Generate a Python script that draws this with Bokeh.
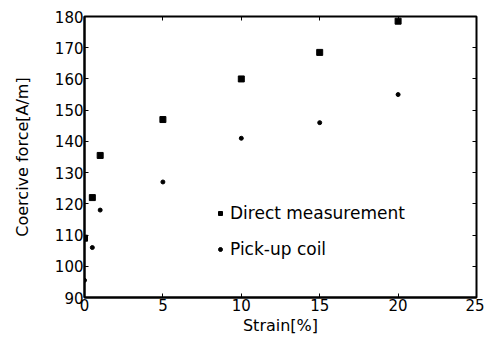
from bokeh.plotting import figure
from bokeh.models import LinearAxis, Legend, LegendItem, Range1d, FixedTicker, ColumnDataSource
from bokeh.embed import file_html
from bokeh.resources import INLINE

strain_direct = [0, 0.5, 1, 5, 10, 15, 20]
hc_direct = [109, 122, 135.5, 147, 160, 168.5, 178.5]
strain_pickup = [0, 0.5, 1, 5, 10, 15, 20]
hc_pickup = [95.5, 106, 118, 127, 141, 146, 155]
x_ticks = [0, 5, 10, 15, 20, 25]
y_ticks = [90, 100, 110, 120, 130, 140, 150, 160, 170, 180]

FONT = "DejaVu Sans"

p = figure(width=484, height=337, output_backend="svg", toolbar_location=None,
           x_range=Range1d(0, 25), y_range=Range1d(90, 180),
           min_border_left=84, min_border_right=8, min_border_top=16, min_border_bottom=39,
           x_axis_label="Strain[%]", y_axis_label="Coercive force[A/m]")
p.grid.visible = False
p.outline_line_color = "black"
p.outline_line_width = 2
p.background_fill_color = "white"
p.border_fill_color = "white"

for ax, ticks in ((p.xaxis[0], x_ticks), (p.yaxis[0], y_ticks)):
    ax.ticker = FixedTicker(ticks=ticks)
    ax.major_tick_in = 4
    ax.major_tick_out = 0
    ax.minor_tick_line_color = None
    ax.axis_line_width = 2
    ax.major_label_text_font = FONT
    ax.major_label_text_font_size = "15px"
    ax.major_label_text_color = "black"
    ax.axis_label_text_font = FONT
    ax.axis_label_text_font_size = "16px"
    ax.axis_label_text_font_style = "normal"
    ax.axis_label_text_color = "black"
    ax.major_label_standoff = 1

p.yaxis[0].axis_label_standoff = 20
p.xaxis[0].axis_label_standoff = 2

top = LinearAxis(ticker=FixedTicker(ticks=x_ticks), major_tick_in=4, major_tick_out=0,
                 minor_tick_line_color=None, axis_line_color=None,
                 major_label_overrides={t: "" for t in x_ticks}, major_label_text_color=None)
right = LinearAxis(ticker=FixedTicker(ticks=y_ticks), major_tick_in=4, major_tick_out=0,
                   minor_tick_line_color=None, axis_line_color=None,
                   major_label_overrides={t: "" for t in y_ticks}, major_label_text_color=None)
p.add_layout(top, "above")
p.add_layout(right, "right")

src_d = ColumnDataSource(dict(x=strain_direct, y=hc_direct))
src_p = ColumnDataSource(dict(x=strain_pickup, y=hc_pickup))
r1 = p.scatter("x", "y", source=src_d, marker="square", size=6, color="black")
r2 = p.scatter("x", "y", source=src_p, marker="circle", size=4, color="black")

legend = Legend(items=[LegendItem(label="Direct measurement", renderers=[r1]),
                       LegendItem(label="Pick-up coil", renderers=[r2])],
                location=(131, 36), padding=0, margin=0, spacing=12,
                glyph_width=10, glyph_height=24, label_height=24, label_standoff=5,
                border_line_alpha=0, background_fill_alpha=0,
                label_text_font=FONT, label_text_font_size="17px", label_text_color="black")
p.add_layout(legend, "center")

open("out.html", "w").write(file_html(p, INLINE))
